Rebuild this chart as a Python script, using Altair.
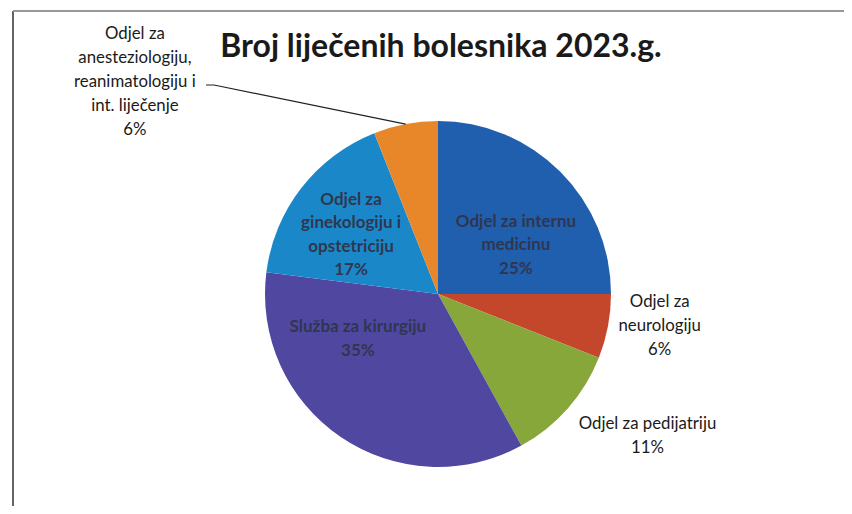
import math
import altair as alt
import pandas as pd

# ---- data ----
departments = [
    "Odjel za internu medicinu",
    "Odjel za neurologiju",
    "Odjel za pedijatriju",
    "Služba za kirurgiju",
    "Odjel za ginekologiju i opstetriciju",
    "Odjel za anesteziologiju, reanimatologiju i int. liječenje",
]
shares = [25, 6, 11, 35, 17, 6]
label_lines = [
    ["Odjel za internu", "medicinu"],
    ["Odjel za", "neurologiju"],
    ["Odjel za pedijatriju"],
    ["Služba za kirurgiju"],
    ["Odjel za", "ginekologiju i", "opstetriciju"],
    ["Odjel za", "anesteziologiju,", "reanimatologiju i", "int. liječenje"],
]
colors = ["#1f5fae", "#c4472b", "#87a73b", "#5048a0", "#1a88c8", "#e8872a"]
title_text = "Broj liječenih bolesnika 2023.g."

# ---- layout (pixels / degrees) ----
W, H = 836, 498
PAD_L, PAD_T = 4, 2
VW, VH = W - PAD_L, H - PAD_T
CX, CY, R = 425, 283, 173
inside = [True, False, False, True, True, False]
# label block centres, polar around the pie centre (degrees clockwise from 12 o'clock, px)
label_angle_deg = [57.9, 98.2, 124.1, 240.6, 304.1, 305.0]
label_radius = [92, 224, 253, 92, 105, 370]
LH_IN, LH_OUT = 23.5, 24

def first_line_polar(ang_deg, rad, n_lines, lh):
    a = math.radians(ang_deg)
    x = rad * math.sin(a)
    y = -rad * math.cos(a) - (n_lines - 1) * lh / 2.0
    return math.atan2(x, -y), math.hypot(x, y)

oznake, kut, rad = [], [], []
for lines, s, a, r, ins in zip(label_lines, shares, label_angle_deg, label_radius, inside):
    txt = lines + [f"{s}%"]
    t, rr = first_line_polar(a, r, len(txt), LH_IN if ins else LH_OUT)
    oznake.append(txt)
    kut.append(t)
    rad.append(rr)

df = pd.DataFrame({
    "odjel": departments,
    "udio": shares,
    "idx": list(range(len(departments))),
    "oznaka": oznake,
    "kut": kut,
    "rad": rad,
    "unutra": inside,
})

pie = alt.Chart(df).mark_arc(radius=R).encode(
    theta=alt.Theta("udio:Q", stack=True),
    color=alt.Color("odjel:N", scale=alt.Scale(domain=departments, range=colors), legend=None),
    order=alt.Order("idx:Q"),
    x=alt.value(CX),
    y=alt.value(CY),
)

def labels(flag, bold, color, size, lh):
    return alt.Chart(df).transform_filter(
        alt.datum.unutra == flag
    ).mark_text(
        font="Lato", fontSize=size, fontWeight="bold" if bold else "normal",
        color=color, align="center", baseline="middle", lineHeight=lh,
    ).encode(
        text="oznaka",
        theta=alt.Theta("kut:Q", scale=None, stack=None),
        radius=alt.Radius("rad:Q", scale=None),
        x=alt.value(CX),
        y=alt.value(CY),
    )

lab_in = labels(True, True, "#30364f", 17, LH_IN)
lab_out = labels(False, False, "#1a1a1a", 16.8, LH_OUT)

# leader line for the small anesthesiology slice
cum = sum(shares[:5])
mid = math.radians((cum + shares[5] / 2) * 3.6)
edge_x = CX + R * math.sin(mid)
edge_y = CY - R * math.cos(mid)
lead = pd.DataFrame({
    "px": [193, 201, edge_x],
    "py": [74, 74, edge_y],
    "k": [0, 1, 2],
})
leader = alt.Chart(lead).mark_line(color="#222222", strokeWidth=1.2).encode(
    x=alt.X("px:Q", scale=None),
    y=alt.Y("py:Q", scale=None),
    order="k:Q",
)

title = alt.Chart(pd.DataFrame({"t": [title_text]})).mark_text(
    font="Lato", fontSize=32, fontWeight="bold", color="#1a1a1a",
    align="center", baseline="alphabetic",
).encode(text="t:N", x=alt.value(428), y=alt.value(46))

frame_left = alt.Chart(df).mark_rule(color="#666666", strokeWidth=1.5).encode(
    x=alt.value(0), y=alt.value(0), y2=alt.value(VH)
)
frame_top = alt.Chart(df).mark_rule(color="#999999", strokeWidth=1.5).encode(
    x=alt.value(0), x2=alt.value(VW), y=alt.value(0)
)

chart = alt.layer(frame_left, frame_top, pie, leader, lab_in, lab_out, title).properties(
    width=W,
    height=H,
    padding={"left": PAD_L, "top": PAD_T, "right": 0, "bottom": 0},
    autosize=alt.AutoSizeParams(type="fit", contains="padding"),
).configure_view(stroke=None).configure(background="white")

chart.save("out.html", embed_options={"renderer": "svg", "actions": False})
